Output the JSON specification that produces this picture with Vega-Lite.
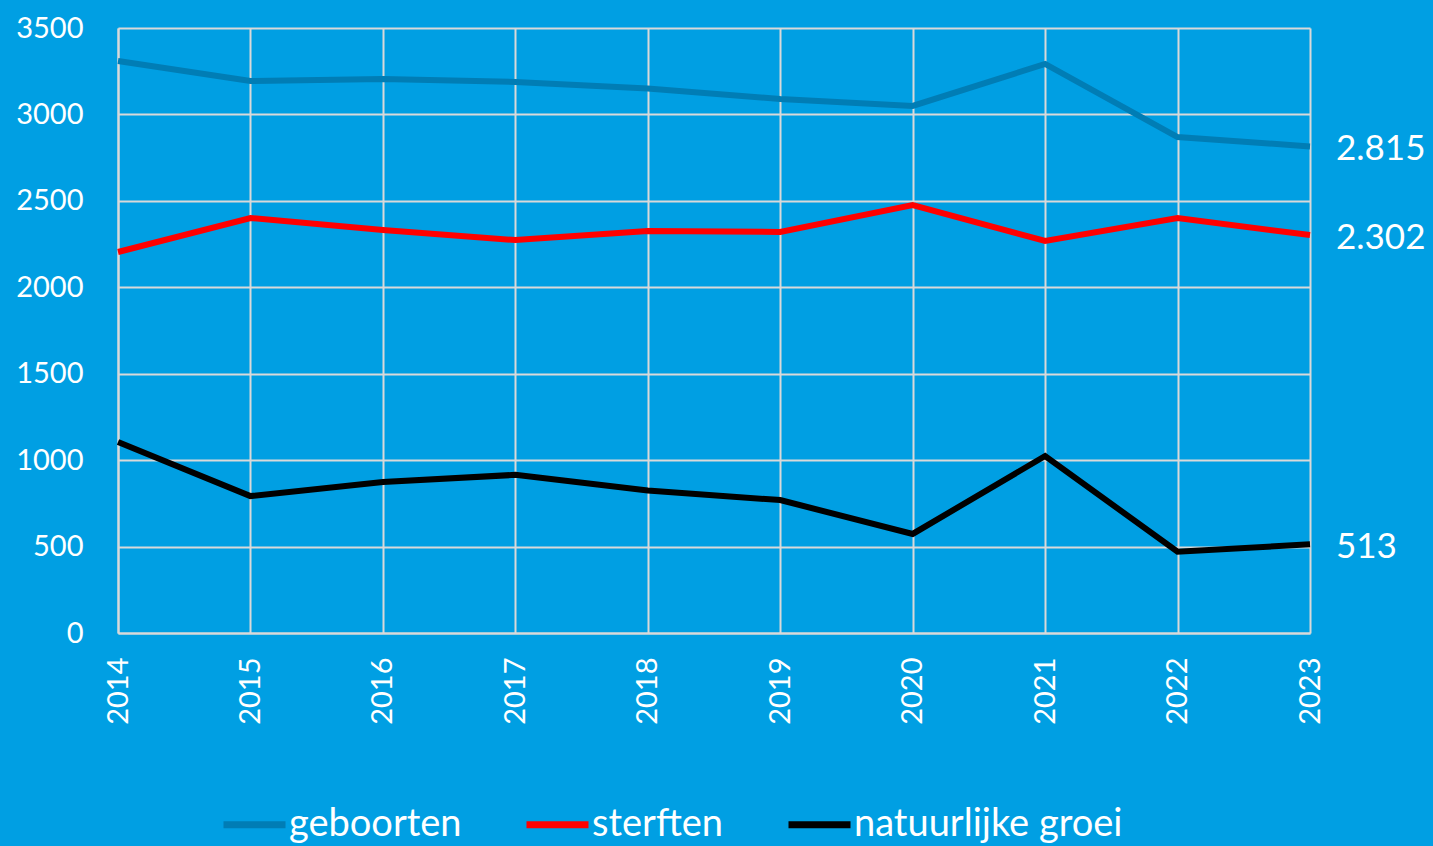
{
  "$schema": "https://vega.github.io/schema/vega-lite/v6.json",
  "width": 1192,
  "height": 605,
  "autosize": {"type": "none"},
  "padding": {"left": 118, "top": 28, "right": 123, "bottom": 213},
  "background": "#009FE3",
  "data": {
    "values": [
      {"jaar": 2014, "reeks": "geboorten", "waarde": 3309, "label": "3.309"},
      {"jaar": 2015, "reeks": "geboorten", "waarde": 3193, "label": "3.193"},
      {"jaar": 2016, "reeks": "geboorten", "waarde": 3205, "label": "3.205"},
      {"jaar": 2017, "reeks": "geboorten", "waarde": 3188, "label": "3.188"},
      {"jaar": 2018, "reeks": "geboorten", "waarde": 3150, "label": "3.150"},
      {"jaar": 2019, "reeks": "geboorten", "waarde": 3089, "label": "3.089"},
      {"jaar": 2020, "reeks": "geboorten", "waarde": 3049, "label": "3.049"},
      {"jaar": 2021, "reeks": "geboorten", "waarde": 3292, "label": "3.292"},
      {"jaar": 2022, "reeks": "geboorten", "waarde": 2869, "label": "2.869"},
      {"jaar": 2023, "reeks": "geboorten", "waarde": 2815, "label": "2.815"},
      {"jaar": 2014, "reeks": "sterften", "waarde": 2204, "label": "2.204"},
      {"jaar": 2015, "reeks": "sterften", "waarde": 2401, "label": "2.401"},
      {"jaar": 2016, "reeks": "sterften", "waarde": 2331, "label": "2.331"},
      {"jaar": 2017, "reeks": "sterften", "waarde": 2273, "label": "2.273"},
      {"jaar": 2018, "reeks": "sterften", "waarde": 2326, "label": "2.326"},
      {"jaar": 2019, "reeks": "sterften", "waarde": 2320, "label": "2.320"},
      {"jaar": 2020, "reeks": "sterften", "waarde": 2476, "label": "2.476"},
      {"jaar": 2021, "reeks": "sterften", "waarde": 2268, "label": "2.268"},
      {"jaar": 2022, "reeks": "sterften", "waarde": 2401, "label": "2.401"},
      {"jaar": 2023, "reeks": "sterften", "waarde": 2302, "label": "2.302"},
      {"jaar": 2014, "reeks": "natuurlijke groei", "waarde": 1105, "label": "1.105"},
      {"jaar": 2015, "reeks": "natuurlijke groei", "waarde": 792, "label": "792"},
      {"jaar": 2016, "reeks": "natuurlijke groei", "waarde": 874, "label": "874"},
      {"jaar": 2017, "reeks": "natuurlijke groei", "waarde": 915, "label": "915"},
      {"jaar": 2018, "reeks": "natuurlijke groei", "waarde": 824, "label": "824"},
      {"jaar": 2019, "reeks": "natuurlijke groei", "waarde": 769, "label": "769"},
      {"jaar": 2020, "reeks": "natuurlijke groei", "waarde": 573, "label": "573"},
      {"jaar": 2021, "reeks": "natuurlijke groei", "waarde": 1024, "label": "1.024"},
      {"jaar": 2022, "reeks": "natuurlijke groei", "waarde": 470, "label": "470"},
      {"jaar": 2023, "reeks": "natuurlijke groei", "waarde": 513, "label": "513"}
    ]
  },
  "encoding": {
    "x": {
      "field": "jaar",
      "type": "ordinal",
      "scale": {"type": "point", "padding": 0},
      "axis": {
        "title": null,
        "labelAngle": -90,
        "labelAlign": "right",
        "labelBaseline": "middle",
        "labelPadding": 24,
        "labelFontSize": 29,
        "labelFont": "Lato",
        "labelColor": "white",
        "ticks": false,
        "grid": true,
        "gridColor": "#D9D9D9",
        "gridWidth": 2,
        "domainColor": "#D9D9D9",
        "domainWidth": 2
      }
    },
    "y": {
      "field": "waarde",
      "type": "quantitative",
      "scale": {"domain": [0, 3500]},
      "axis": {
        "title": null,
        "values": [0, 500, 1000, 1500, 2000, 2500, 3000, 3500],
        "format": "d",
        "labelFontSize": 29,
        "labelFont": "Lato",
        "labelColor": "white",
        "labelPadding": 35,
        "ticks": false,
        "grid": true,
        "gridColor": "#D9D9D9",
        "gridWidth": 2,
        "domainColor": "#D9D9D9",
        "domainWidth": 2
      }
    }
  },
  "layer": [
    {
      "mark": {"type": "line", "strokeWidth": 6},
      "encoding": {
        "color": {
          "field": "reeks",
          "type": "nominal",
          "sort": ["geboorten", "sterften", "natuurlijke groei"],
          "scale": {
            "domain": ["geboorten", "sterften", "natuurlijke groei"],
            "range": ["#007DB5", "#FF0000", "#000000"]
          },
          "legend": {
            "title": null,
            "orient": "none",
            "legendX": 102,
            "legendY": 762,
            "direction": "horizontal",
            "symbolType": "stroke",
            "symbolSize": 3844,
            "symbolStrokeWidth": 7,
            "labelFontSize": 38,
            "labelFont": "Lato",
            "labelColor": "white",
            "labelOffset": 0,
            "columnPadding": 50,
            "padding": 0,
            "labelLimit": 500
          }
        }
      }
    },
    {
      "transform": [{"filter": "datum.jaar == 2023"}],
      "mark": {
        "type": "text",
        "align": "left",
        "baseline": "middle",
        "dx": 26,
        "dy": 3,
        "fontSize": 35,
        "font": "Lato",
        "color": "white"
      },
      "encoding": {
        "text": {"field": "label", "type": "nominal"}
      }
    }
  ],
  "config": {
    "view": {"stroke": null}
  }
}
